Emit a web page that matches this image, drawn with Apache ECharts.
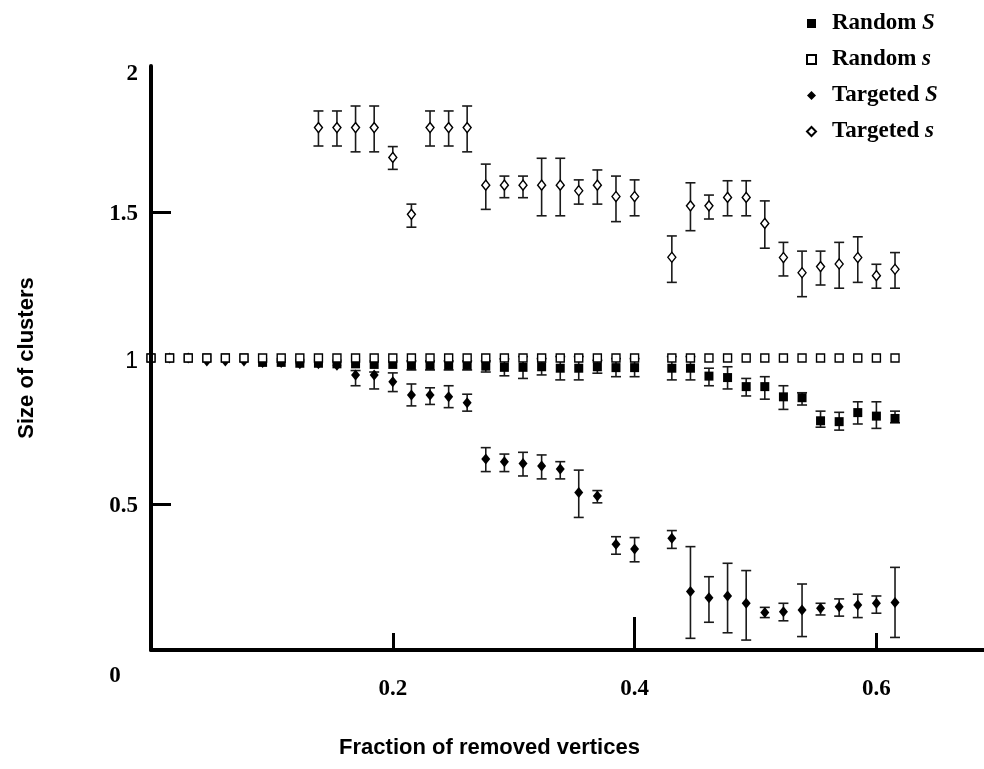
<!DOCTYPE html>
<html>
<head>
<meta charset="utf-8">
<script src="https://cdn.jsdelivr.net/npm/echarts@6/dist/echarts.min.js"></script>
<style>
  html, body { margin: 0; padding: 0; background: #fff; }
  #chart { width: 984px; height: 769px; }
</style>
</head>
<body>
<div id="chart"></div>
<script>
// Fraction of removed vertices at each measurement step
const fraction = [0, 0.0154, 0.0308, 0.0462, 0.0615, 0.0769, 0.0923, 0.1077, 0.1231, 0.1385,
  0.1538, 0.1692, 0.1846, 0.2, 0.2154, 0.2308, 0.2462, 0.2615, 0.2769, 0.2923,
  0.3077, 0.3231, 0.3385, 0.3538, 0.3692, 0.3846, 0.4, 0.4308, 0.4462, 0.4615,
  0.4769, 0.4923, 0.5077, 0.5231, 0.5385, 0.5538, 0.5692, 0.5846, 0.6, 0.6154];

// Random removal: giant cluster S, mean small-cluster size s
const randomS = [1, 1, 1, 1, 1, 1, 0.985, 0.985, 0.982, 0.982,
  0.98, 0.98, 0.978, 0.978, 0.975, 0.975, 0.975, 0.975, 0.972, 0.968,
  0.968, 0.97, 0.965, 0.965, 0.97, 0.967, 0.967, 0.965, 0.965, 0.938,
  0.933, 0.902, 0.902, 0.867, 0.864, 0.785, 0.782, 0.813, 0.801, 0.793];
const randomSLow = [null, null, null, null, null, null, null, null, null, null,
  null, null, null, null, 0.959, 0.959, 0.959, 0.959, 0.952, 0.939,
  0.93, 0.942, 0.925, 0.925, 0.948, 0.936, 0.936, 0.925, 0.925, 0.905,
  0.894, 0.87, 0.859, 0.824, 0.839, 0.763, 0.753, 0.774, 0.759, 0.778];
const randomSHigh = [null, null, null, null, null, null, null, null, null, null,
  null, null, null, null, 0.99, 0.99, 0.99, 0.99, 0.99, 0.997,
  1.005, 0.998, 1.005, 1.005, 0.992, 0.998, 0.998, 1.005, 1.005, 0.965,
  0.97, 0.93, 0.936, 0.905, 0.881, 0.818, 0.814, 0.85, 0.85, 0.818];
const randomSmall = [1, 1, 1, 1, 1, 1, 1, 1, 1, 1,
  1, 1, 1, 1, 1, 1, 1, 1, 1, 1,
  1, 1, 1, 1, 1, 1, 1, 1, 1, 1,
  1, 1, 1, 1, 1, 1, 1, 1, 1, 1];

// Targeted removal: giant cluster S, mean small-cluster size s
const targetedS = [1, 1, 1, 0.99, 0.99, 0.99, 0.985, 0.985, 0.98, 0.98,
  0.975, 0.942, 0.942, 0.919, 0.873, 0.873, 0.867, 0.847, 0.654, 0.645,
  0.639, 0.63, 0.62, 0.539, 0.527, 0.362, 0.346, 0.383, 0.2, 0.179,
  0.185, 0.16, 0.128, 0.131, 0.137, 0.143, 0.148, 0.154, 0.16, 0.163];
const targetedSLow = [null, null, null, null, null, null, null, null, null, null,
  null, 0.905, 0.894, 0.885, 0.836, 0.841, 0.83, 0.818, 0.611, 0.611,
  0.596, 0.586, 0.586, 0.454, 0.504, 0.328, 0.302, 0.348, 0.04, 0.095,
  0.059, 0.034, 0.111, 0.1, 0.046, 0.12, 0.116, 0.111, 0.126, 0.043];
const targetedSHigh = [null, null, null, null, null, null, null, null, null, null,
  null, 0.957, 0.952, 0.949, 0.911, 0.898, 0.905, 0.876, 0.693, 0.671,
  0.677, 0.668, 0.645, 0.616, 0.546, 0.388, 0.385, 0.409, 0.354, 0.251,
  0.297, 0.272, 0.146, 0.16, 0.226, 0.16, 0.175, 0.191, 0.185, 0.283];
const targetedSmall = [null, null, null, null, null, null, null, null, null, 1.789,
  1.789, 1.789, 1.789, 1.687, 1.492, 1.789, 1.789, 1.789, 1.592, 1.592,
  1.592, 1.592, 1.592, 1.573, 1.592, 1.553, 1.553, 1.345, 1.521, 1.521,
  1.55, 1.55, 1.461, 1.344, 1.292, 1.313, 1.322, 1.344, 1.282, 1.304];
const targetedSmallLow = [null, null, null, null, null, null, null, null, null, 1.726,
  1.726, 1.706, 1.706, 1.646, 1.448, 1.726, 1.726, 1.706, 1.509, 1.549,
  1.549, 1.487, 1.487, 1.527, 1.527, 1.467, 1.487, 1.259, 1.436, 1.476,
  1.487, 1.487, 1.376, 1.281, 1.21, 1.25, 1.239, 1.259, 1.239, 1.239];
const targetedSmallHigh = [null, null, null, null, null, null, null, null, null, 1.846,
  1.846, 1.863, 1.863, 1.724, 1.527, 1.846, 1.846, 1.863, 1.664, 1.623,
  1.623, 1.684, 1.684, 1.61, 1.644, 1.623, 1.61, 1.418, 1.6, 1.558,
  1.607, 1.607, 1.538, 1.396, 1.366, 1.366, 1.396, 1.415, 1.321, 1.361];

const xTickLabels = [0.2, 0.4, 0.6];
const yTickLabels = [0.5, 1, 1.5, 2];

function points(values) {
  const out = [];
  values.forEach((v, i) => { if (v !== null) out.push([fraction[i], v]); });
  return out;
}
function bars(low, high) {
  const out = [];
  low.forEach((lo, i) => { if (lo !== null && high[i] !== null) out.push([fraction[i], lo, high[i]]); });
  return out;
}

// Vertical error bar with short caps at both ends
function renderErrorBar(params, api) {
  const x = api.value(0);
  const lo = api.coord([x, api.value(1)]);
  const hi = api.coord([x, api.value(2)]);
  const cap = 5;
  const style = { stroke: '#1a1a1a', lineWidth: 1.6 };
  return {
    type: 'group',
    children: [
      { type: 'line', shape: { x1: lo[0], y1: lo[1], x2: hi[0], y2: hi[1] }, style },
      { type: 'line', shape: { x1: lo[0] - cap, y1: lo[1], x2: lo[0] + cap, y2: lo[1] }, style },
      { type: 'line', shape: { x1: hi[0] - cap, y1: hi[1], x2: hi[0] + cap, y2: hi[1] }, style }
    ]
  };
}

function errorSeries(name, low, high) {
  return {
    name: name,
    type: 'custom',
    xAxisIndex: 0,
    renderItem: renderErrorBar,
    data: bars(low, high),
    z: 1,
    silent: true
  };
}

const chart = echarts.init(document.getElementById('chart'));
const serif = 'Liberation Serif, Times New Roman, serif';
const sans = 'Liberation Sans, Arial, sans-serif';

chart.setOption({
  backgroundColor: '#fff',
  animation: false,
  grid: { left: 151, top: 66, width: 833, height: 584 },
  legend: {
    data: ['Random S', 'Random s', 'Targeted S', 'Targeted s'],
    orient: 'vertical',
    left: 801,
    top: 6,
    itemWidth: 9,
    itemHeight: 9,
    itemGap: 11,
    formatter: name => name.replace(/^(\S+) (\w)$/, '{t|$1 }{i|$2}'),
    textStyle: {
      fontFamily: serif, fontWeight: 'bold', fontSize: 23, color: '#000', lineHeight: 25,
      rich: {
        t: { fontFamily: serif, fontWeight: 'bold', fontSize: 23, color: '#000', padding: [0, 0, 0, 11] },
        i: { fontFamily: serif, fontWeight: 'bold', fontStyle: 'italic', fontSize: 23, color: '#000' }
      }
    }
  },
  xAxis: [
    {
      type: 'value', min: 0, max: 0.689,
      name: 'Fraction of removed vertices',
      nameLocation: 'middle',
      nameGap: 87,
      nameTextStyle: { fontFamily: sans, fontWeight: 'bold', fontSize: 22, color: '#000', padding: [0, 156, 0, 0] },
      axisLine: { show: true, lineStyle: { color: '#000', width: 4 } },
      axisTick: { show: true, inside: true, length: 17, lineStyle: { color: '#000', width: 3 }, customValues: [0.2, 0.6] },
      axisLabel: { customValues: xTickLabels, margin: 28, fontFamily: serif, fontWeight: 'bold', fontSize: 23, color: '#000' },
      splitLine: { show: false },
      z: 5
    },
    {
      type: 'value', min: 0, max: 0.689, position: 'bottom',
      axisLine: { show: false },
      axisTick: { show: true, inside: true, length: 33, lineStyle: { color: '#000', width: 3 }, customValues: [0.4] },
      axisLabel: { show: false },
      splitLine: { show: false },
      z: 5
    }
  ],
  yAxis: {
    type: 'value', min: 0, max: 2,
    name: 'Size of clusters',
    nameLocation: 'middle',
    nameGap: 113,
    nameRotate: 90,
    nameTextStyle: { fontFamily: sans, fontWeight: 'bold', fontSize: 22, color: '#000' },
    axisLine: { show: true, lineStyle: { color: '#000', width: 4 } },
    axisTick: { show: true, inside: true, length: 20, lineStyle: { color: '#000', width: 3 }, customValues: [0.5, 1.5] },
    axisLabel: {
      customValues: yTickLabels, margin: 13,
      formatter: v => (v === 1 ? '{one|1}' : v === 2 ? '{top|2}' : '{n|' + v + '}'),
      rich: {
        n: { fontFamily: serif, fontWeight: 'bold', fontSize: 23, color: '#000', padding: [5, 0, 0, 0] },
        top: { fontFamily: serif, fontWeight: 'bold', fontSize: 23, color: '#000', padding: [17, 0, 0, 0] },
        one: { fontFamily: sans, fontWeight: 'normal', fontSize: 23, color: '#000', padding: [7, 0, 0, 0] }
      }
    },
    splitLine: { show: false },
    z: 5
  },
  graphic: [
    { type: 'text', x: 115, y: 676, style: { text: '0', font: 'bold 23px ' + serif, fill: '#000', align: 'center', verticalAlign: 'middle' } }
  ],
  series: [
    errorSeries('Random S error', randomSLow, randomSHigh),
    errorSeries('Targeted S error', targetedSLow, targetedSHigh),
    errorSeries('Targeted s error', targetedSmallLow, targetedSmallHigh),
    {
      name: 'Random S', type: 'scatter', symbol: 'rect', symbolSize: 9,
      itemStyle: { color: '#000', opacity: 1 }, data: points(randomS), z: 3
    },
    {
      name: 'Targeted S', type: 'scatter', symbol: 'diamond', symbolSize: [9, 11],
      itemStyle: { color: '#000', opacity: 1 }, data: points(targetedS), z: 3
    },
    {
      name: 'Random s', type: 'scatter', symbol: 'rect', symbolSize: 8,
      itemStyle: { color: '#fff', borderColor: '#000', borderWidth: 1.4, opacity: 1 }, data: points(randomSmall), z: 4
    },
    {
      name: 'Targeted s', type: 'scatter', symbol: 'diamond', symbolSize: [8, 10],
      itemStyle: { color: '#fff', borderColor: '#000', borderWidth: 1.4, opacity: 1 }, data: points(targetedSmall), z: 4
    }
  ]
});
</script>
</body>
</html>
